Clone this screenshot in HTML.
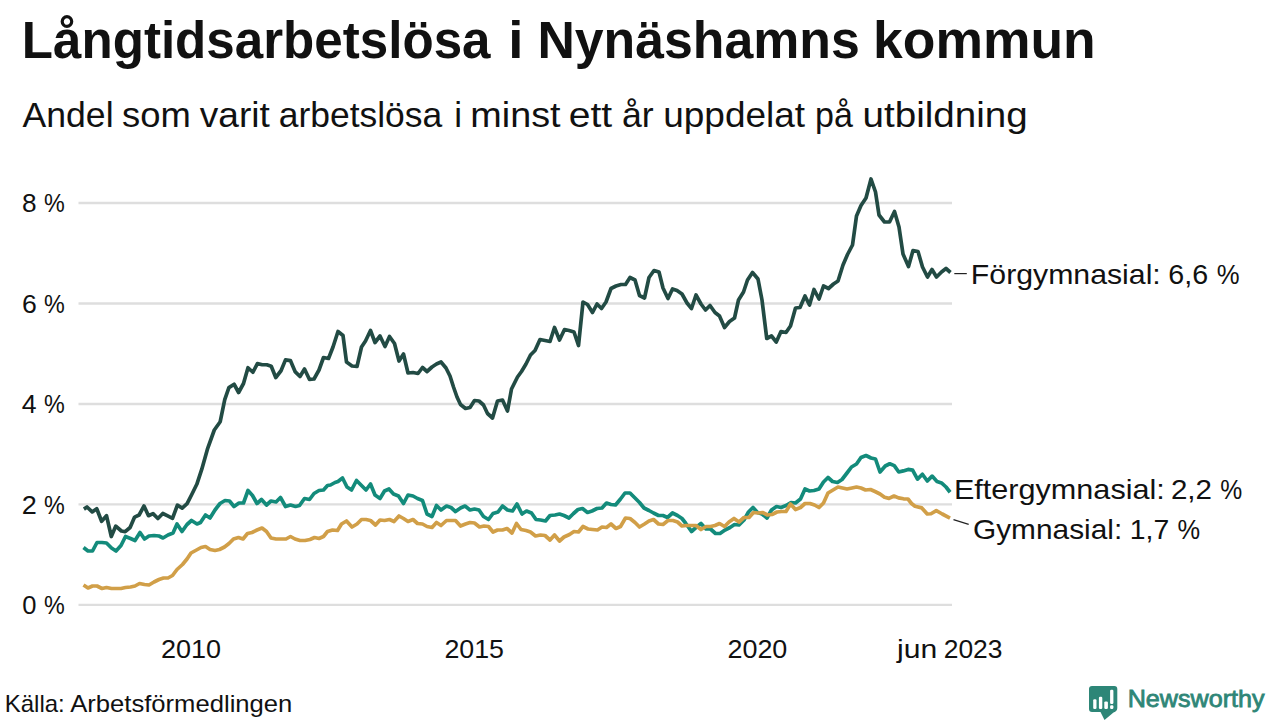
<!DOCTYPE html>
<html><head><meta charset="utf-8">
<style>
html,body{margin:0;padding:0;background:#fff;width:1280px;height:720px;overflow:hidden;}
svg{position:absolute;left:0;top:0;display:block;}
text{font-family:"Liberation Sans",sans-serif;}
</style></head><body>
<svg width="1280" height="720" viewBox="0 0 1280 720">
<rect width="1280" height="720" fill="#fff"/>
<g stroke="#dedede" stroke-width="2.3">
<line x1="78.5" y1="203" x2="952" y2="203"/>
<line x1="78.5" y1="303.5" x2="952" y2="303.5"/>
<line x1="78.5" y1="404" x2="952" y2="404"/>
<line x1="78.5" y1="504.4" x2="952" y2="504.4"/>
<line x1="78.5" y1="604.8" x2="952" y2="604.8"/>
</g>
<g fill="none" stroke-width="3.7" stroke-linejoin="round" stroke-linecap="butt">
<path d="M83.5,547.5 L88,551 L92.5,551 L97,542.5 L102,542.5 L106.5,543 L111.5,548 L116,551 L121,545.5 L125.5,536.5 L130.5,538.5 L135,540.5 L140,532.5 L144.5,539 L149,536 L154,535.5 L159,536 L163,538 L168,535 L173,533 L177,524 L182,531.5 L187,524.5 L191.5,520.5 L197,524 L200.5,522.5 L205.5,515 L210,518 L215,510 L220,503.5 L225,500.5 L229.5,501 L234,506.5 L239,503 L243.5,503 L248,490.5 L252.5,495.5 L257,503.5 L261.5,499.5 L266.5,505 L271,501 L276,502 L280.5,497.5 L285.5,506.5 L290.5,505 L295.5,506.5 L299.5,505.5 L304.5,498.5 L309.5,499.5 L314,493.5 L319,490.5 L323.5,490 L327.5,485.5 L330.5,485 L335,482.5 L338,481.5 L342.5,478 L347,487 L351.5,490 L356.5,480.5 L361.5,485.5 L366,490 L370.5,484 L375,495 L380,498.5 L384.5,491 L389,489 L393.5,494 L398.5,496 L403.5,503.5 L408,495 L413,496 L417.5,498.5 L422.5,500.5 L427,514 L432,516.5 L436.5,505.5 L441,510 L446.5,506 L451,507.5 L455.5,511.5 L460.5,508 L465,506 L470,510 L474.5,509 L479,510 L483.5,516.5 L488.5,519.5 L493,513.5 L498,512 L502.5,506 L507.5,510 L512.5,511 L517,504 L522,514 L526.5,511 L531.5,513 L536,519.5 L540.5,520 L545.5,521 L550,515.5 L555,515 L559.5,514 L564,515.5 L569,518 L573.5,513.5 L578,509.5 L582.5,508.5 L587.5,512.5 L592,511 L597,508.5 L602,508 L606.5,503 L611,504.5 L615.5,505 L620.5,499 L625,493 L630,493 L634.5,497.5 L639.5,502.5 L644,508 L649,510.5 L653.5,513 L658.5,515.5 L663,515.5 L667.5,517.5 L672.5,513 L677.5,515.5 L682,518.5 L685.5,523 L691.5,531.5 L696.5,527 L701,523.5 L706,529 L710.5,529 L715.5,533.5 L720,533.5 L725,530 L730,527.5 L734.5,524.5 L739,525 L744,520 L748.5,512 L753,507.5 L757.5,512.5 L762,514 L767,518 L771.5,510 L776.5,506.5 L781,507.5 L786,505.5 L791,502.5 L795.5,503 L800.5,499 L805,489 L809.5,491 L814,490.5 L819,489 L823.5,482 L828,477.5 L832.5,481.5 L837.5,482.5 L842,479.5 L847,473 L851.5,467 L856.5,464 L861,457.5 L866,455.5 L871,458 L875.5,459 L880,472 L885.25,466 L889.75,463.75 L894.25,465.6 L898.75,472 L903.25,470.9 L908.1,469.4 L912.6,470.1 L917.5,479.1 L922.4,474.25 L927.3,481 L932.1,476.1 L937,481.4 L941.5,482.9 L946,487 L950.1,492.25" stroke="#138b7b"/>
<path d="M83.5,585 L88,588 L92.5,586 L97,586 L102,588.5 L106.5,587.5 L111.5,588.5 L116,588.5 L121,588.5 L125.5,587.5 L130.5,587 L135,586 L139.5,583.5 L144.5,584.5 L149,585 L154,582 L159,579.5 L163.5,578 L168,578 L172.5,575.5 L177,569.5 L182.5,564.5 L187,559 L191,553 L196.5,550 L201,547.5 L205.5,546.5 L210,549.5 L215,550.5 L219.5,549.5 L224.5,547 L229,543.5 L233.5,539 L238.5,537.5 L243,539 L247.5,533.5 L252,532.5 L257,530 L262,528 L266.5,531.5 L271,538 L276,539 L281,539 L286,539 L290.5,536.5 L295,539 L300,540.5 L305,540.5 L310,539.5 L314.5,537.5 L319,538.5 L323.5,536.5 L327.5,531.5 L332.5,530 L337.5,530.5 L341.5,524 L346.5,521 L352,527 L357,524 L361.5,519.5 L366,519.5 L370.5,520.5 L375.5,525 L380,520 L384.5,520.5 L389.5,519.5 L394,521.5 L399,516 L403.5,518.5 L408,521.5 L413,519.5 L417.5,523.5 L422.5,524 L427,526.5 L432,527.5 L436.5,522.5 L441,525.5 L446.5,520.5 L451,520.5 L455.5,520.5 L460.5,526 L465.5,524 L470,522.5 L474.5,523 L479.5,527 L484,526 L488.5,526.5 L493,532 L497.5,530 L502.5,530 L507,528.5 L512,533 L516.5,523.5 L521,529.5 L526,530.5 L530.5,532 L535.5,536 L540.5,535 L545,535.5 L550,540 L554.5,535 L559.5,541 L564,537 L569.5,534.5 L574,531.5 L578.5,532 L583,526.5 L588,529 L592.5,529.5 L597.5,530 L602,527 L606.5,527.5 L611,524 L616,528.5 L620.5,526.5 L625.5,518 L630,518.5 L635,522.5 L639.5,527 L644.5,524 L649,521 L653.5,519.5 L658.5,524 L663,524.5 L668,520.5 L673,520.5 L677.5,522 L682,526 L686,525.5 L691,525.5 L696,525.5 L701,529.5 L706,526.5 L710.5,526.5 L715,525.5 L719.5,523.5 L724.5,526.5 L729,522 L734,518.5 L739,522 L744,517.5 L749,517.5 L753.5,512.5 L758,513 L762.5,512.5 L767.5,515 L772,514.5 L777,512 L781.5,511.5 L786,511.5 L790.5,504 L795.5,509.5 L800.5,507.5 L805,503.5 L810,503.5 L814.5,505 L819,507.5 L823.5,503 L828,493 L833,490 L838,487 L842.5,488 L847,489 L852,488 L856.5,487 L861,488 L865.5,490 L870.5,489.5 L875,491.5 L880,494 L884.5,497.3 L889,498.4 L894,496 L898.5,497.9 L903.5,498.8 L908,499 L911.5,503.5 L915,506.3 L921.8,507.9 L927.25,514 L931,513.75 L936.3,510.6 L942.25,514 L950,518.1" stroke="#d19f48"/>
<path d="M83.9,509.1 L87,507 L92.2,511.9 L96.75,508.75 L101.6,521.25 L106.5,515.7 L111.3,536.5 L115.8,526.1 L121.4,531 L125.2,531.7 L130.1,527.5 L134.6,517.1 L139.1,515 L144,506 L148.5,515.7 L153,513.6 L157.9,518.5 L162.8,513.5 L167.7,515.9 L172.5,518.3 L177.4,505.2 L182.2,508.1 L187.1,503.7 L192,494 L196.8,484.3 L201.8,469.2 L207.7,448.3 L214.3,430 L220.2,421.7 L224.75,399.6 L228.9,387.6 L234.1,384.25 L238.6,392.5 L243.5,383.5 L248,367.75 L252.9,372.25 L257.4,363.6 L262.3,364.75 L266.8,364.75 L271.25,366.25 L275.75,377.5 L281,370.75 L285.5,359.9 L290.4,360.6 L295.3,371.9 L300,376.5 L304.5,369 L309.5,379.5 L314,379 L319,370 L323.5,357.5 L328.5,358.5 L333,347 L338,331.5 L343,335.5 L346.5,362 L352,366 L357,366.5 L361.5,347 L365.5,341 L370.5,330.5 L375,342.5 L380,336 L385,346.5 L389.5,336.5 L394.5,343.5 L399,361 L403.5,354 L408,373 L413,372.5 L418,373.5 L422.5,367.5 L427,371.5 L432,367 L436.5,364 L441,362 L446,368 L450,376 L453.5,387 L457,397 L460.5,404.5 L465.5,408.5 L470,407.5 L474.5,400.5 L479,401 L483.5,405 L487.5,413.5 L492.5,418 L497.5,401 L502.5,400 L507.5,411 L511.5,389 L517.5,377 L521.5,371.5 L526,364 L530.5,355 L535,350.5 L540,339.5 L545,340.5 L550,341.5 L554.5,327.5 L559.5,340 L564.5,329.5 L569,330.5 L574,332 L578.5,345.5 L583,302 L587.5,304.5 L592.5,312.5 L597,304 L601.5,308.5 L606,302 L611,288.5 L616,286 L621,284.5 L625.5,284.5 L630,277.5 L635,280 L639.5,295.5 L644.5,298 L649,277.5 L654,270.5 L659,272 L663,288 L668,298.5 L672.5,289 L677,290.5 L682,294 L687,303 L691.5,308.5 L696,295 L701,304 L705.5,310 L710,305.5 L715,312.5 L719.5,316 L724.5,327.5 L729.5,321.5 L734.5,318 L738.5,300 L743.5,292 L747.5,280 L752.5,272.5 L758,279 L762,300 L766.75,338.5 L771.5,336 L776.25,342 L781,331.5 L786,332.5 L790.5,326 L795.5,308 L800,307.5 L805,296 L809.5,305 L814,289.5 L819,299 L823.5,286 L828.5,288.5 L833.5,284 L838,281 L843,265 L847.5,254.5 L852.5,245 L856.5,216 L861,205.5 L866,198 L871,179 L875.5,192 L879,215 L884.5,222 L889.5,222 L894.5,211.5 L899,227 L903,254 L908.5,266.5 L913,250.5 L918,251.5 L922.5,267 L927.5,277 L932,269.5 L936.5,277 L941.5,272 L946,268.5 L950.5,272.5" stroke="#224b44"/>
</g>
<g stroke="#222" stroke-width="1.2">
<line x1="954.3" y1="273.6" x2="966.8" y2="273.6"/>
<line x1="953.5" y1="519.6" x2="968.7" y2="524.4"/>
</g>
<text x="21.79" y="57.7" font-size="51" font-weight="bold" fill="#111" textLength="468.72" lengthAdjust="spacingAndGlyphs">Långtidsarbetslösa</text>
<text x="508.25" y="57.7" font-size="51" font-weight="bold" fill="#111" textLength="15.18" lengthAdjust="spacingAndGlyphs">i</text>
<text x="537.45" y="57.7" font-size="51" font-weight="bold" fill="#111" textLength="322.29" lengthAdjust="spacingAndGlyphs">Nynäshamns</text>
<text x="873.03" y="57.7" font-size="51" font-weight="bold" fill="#111" textLength="222.69" lengthAdjust="spacingAndGlyphs">kommun</text>
<text x="22.5" y="127.3" font-size="35" font-weight="normal" fill="#111" textLength="91.06" lengthAdjust="spacingAndGlyphs">Andel</text>
<text x="121.96" y="127.3" font-size="35" font-weight="normal" fill="#111" textLength="68.76" lengthAdjust="spacingAndGlyphs">som</text>
<text x="199.74" y="127.3" font-size="35" font-weight="normal" fill="#111" textLength="70.06" lengthAdjust="spacingAndGlyphs">varit</text>
<text x="278.73" y="127.3" font-size="35" font-weight="normal" fill="#111" textLength="163.5" lengthAdjust="spacingAndGlyphs">arbetslösa</text>
<text x="454.2" y="127.3" font-size="35" font-weight="normal" fill="#111" textLength="7.78" lengthAdjust="spacingAndGlyphs">i</text>
<text x="470.37" y="127.3" font-size="35" font-weight="normal" fill="#111" textLength="90.23" lengthAdjust="spacingAndGlyphs">minst</text>
<text x="568.72" y="127.3" font-size="35" font-weight="normal" fill="#111" textLength="43.46" lengthAdjust="spacingAndGlyphs">ett</text>
<text x="622.07" y="127.3" font-size="35" font-weight="normal" fill="#111" textLength="31.66" lengthAdjust="spacingAndGlyphs">år</text>
<text x="663.22" y="127.3" font-size="35" font-weight="normal" fill="#111" textLength="141.89" lengthAdjust="spacingAndGlyphs">uppdelat</text>
<text x="815.11" y="127.3" font-size="35" font-weight="normal" fill="#111" textLength="37.82" lengthAdjust="spacingAndGlyphs">på</text>
<text x="862.52" y="127.3" font-size="35" font-weight="normal" fill="#111" textLength="165.27" lengthAdjust="spacingAndGlyphs">utbildning</text>
<text x="21.94" y="212.4" font-size="26" font-weight="normal" fill="#111" textLength="14.58" lengthAdjust="spacingAndGlyphs">8</text>
<text x="44.1" y="212.4" font-size="26" font-weight="normal" fill="#111" textLength="20.78" lengthAdjust="spacingAndGlyphs">%</text>
<text x="21.92" y="312.9" font-size="26" font-weight="normal" fill="#111" textLength="14.82" lengthAdjust="spacingAndGlyphs">6</text>
<text x="44.1" y="312.9" font-size="26" font-weight="normal" fill="#111" textLength="20.78" lengthAdjust="spacingAndGlyphs">%</text>
<text x="21.79" y="413.4" font-size="26" font-weight="normal" fill="#111" textLength="14.84" lengthAdjust="spacingAndGlyphs">4</text>
<text x="44.1" y="413.4" font-size="26" font-weight="normal" fill="#111" textLength="20.78" lengthAdjust="spacingAndGlyphs">%</text>
<text x="21.7" y="513.9" font-size="26" font-weight="normal" fill="#111" textLength="15.06" lengthAdjust="spacingAndGlyphs">2</text>
<text x="44.1" y="513.9" font-size="26" font-weight="normal" fill="#111" textLength="20.78" lengthAdjust="spacingAndGlyphs">%</text>
<text x="22.22" y="614.2" font-size="26" font-weight="normal" fill="#111" textLength="14.23" lengthAdjust="spacingAndGlyphs">0</text>
<text x="44.1" y="614.2" font-size="26" font-weight="normal" fill="#111" textLength="20.78" lengthAdjust="spacingAndGlyphs">%</text>
<text x="161.0" y="657.9" font-size="26" font-weight="normal" fill="#111" textLength="60.13" lengthAdjust="spacingAndGlyphs">2010</text>
<text x="444.41" y="657.9" font-size="26" font-weight="normal" fill="#111" textLength="59.61" lengthAdjust="spacingAndGlyphs">2015</text>
<text x="727.45" y="657.9" font-size="26" font-weight="normal" fill="#111" textLength="59.92" lengthAdjust="spacingAndGlyphs">2020</text>
<text x="897.12" y="658" font-size="26" font-weight="normal" fill="#111" textLength="40.2" lengthAdjust="spacingAndGlyphs">jun</text>
<text x="943.73" y="658" font-size="26" font-weight="normal" fill="#111" textLength="58.78" lengthAdjust="spacingAndGlyphs">2023</text>
<text x="4.8" y="711.6" font-size="24" font-weight="normal" fill="#111" textLength="59.98" lengthAdjust="spacingAndGlyphs">Källa:</text>
<text x="70.23" y="711.6" font-size="24" font-weight="normal" fill="#111" textLength="222.09" lengthAdjust="spacingAndGlyphs">Arbetsförmedlingen</text>
<text x="970.87" y="283.8" font-size="28" font-weight="normal" fill="#111" textLength="189.92" lengthAdjust="spacingAndGlyphs">Förgymnasial:</text>
<text x="1168.36" y="283.8" font-size="28" font-weight="normal" fill="#111" textLength="39.84" lengthAdjust="spacingAndGlyphs">6,6</text>
<text x="1216.68" y="283.8" font-size="28" font-weight="normal" fill="#111" textLength="22.84" lengthAdjust="spacingAndGlyphs">%</text>
<text x="953.94" y="498.9" font-size="28" font-weight="normal" fill="#111" textLength="210.85" lengthAdjust="spacingAndGlyphs">Eftergymnasial:</text>
<text x="1170.92" y="498.9" font-size="28" font-weight="normal" fill="#111" textLength="41.09" lengthAdjust="spacingAndGlyphs">2,2</text>
<text x="1220.32" y="498.9" font-size="28" font-weight="normal" fill="#111" textLength="21.98" lengthAdjust="spacingAndGlyphs">%</text>
<text x="973.0" y="538.5" font-size="28" font-weight="normal" fill="#111" textLength="149.21" lengthAdjust="spacingAndGlyphs">Gymnasial:</text>
<text x="1129.82" y="538.5" font-size="28" font-weight="normal" fill="#111" textLength="39.42" lengthAdjust="spacingAndGlyphs">1,7</text>
<text x="1177.49" y="538.5" font-size="28" font-weight="normal" fill="#111" textLength="22.63" lengthAdjust="spacingAndGlyphs">%</text>
<text x="1127.66" y="707.2" font-size="24.5" font-weight="normal" fill="#2e8677" stroke="#2e8677" stroke-width="0.8" textLength="136.95" lengthAdjust="spacingAndGlyphs">Newsworthy</text>
<g id="logo">
<path d="M1092,686 H1114.3 Q1117.3,686 1117.3,689 V708 Q1117.3,711.2 1113.5,712.5 L1104.5,720 L1100.5,712 H1092 Q1089,712 1089,709 V689 Q1089,686 1092,686 Z" fill="#2d8677"/>
<g fill="#fff">
<rect x="1093.2" y="699.2" width="3.3" height="9.7" rx="1.2"/>
<rect x="1098.9" y="696.7" width="3.4" height="12.2" rx="1.2"/>
<rect x="1104.3" y="701.4" width="3.6" height="7.5" rx="1.2"/>
<rect x="1110.1" y="689.7" width="3.3" height="14.2" rx="1.2"/>
<rect x="1110.1" y="705.3" width="3.3" height="3.6" rx="1.2"/>
</g>
</g>
</svg>
</body></html>
